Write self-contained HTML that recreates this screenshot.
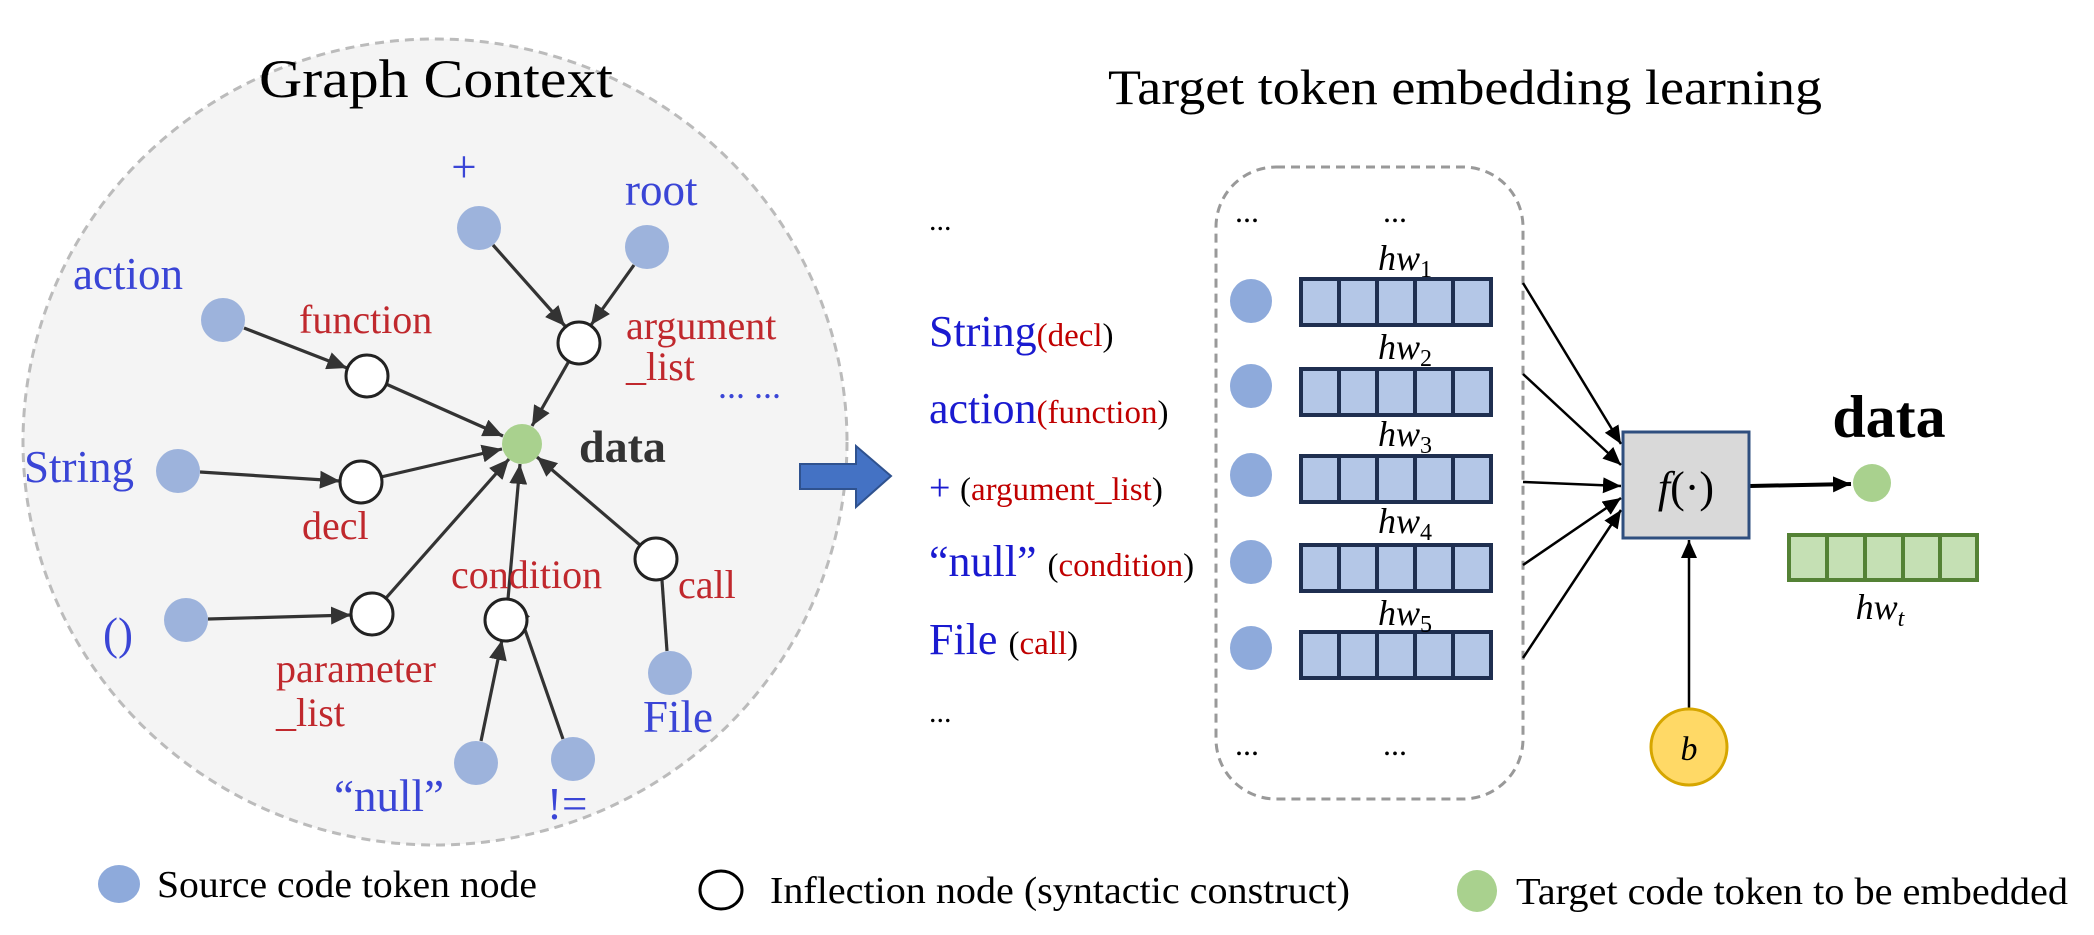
<!DOCTYPE html>
<html><head><meta charset="utf-8"><style>
html,body{margin:0;padding:0;background:#fff;}
svg{display:block;}
text{font-family:"Liberation Serif",serif;}
</style></head><body>
<svg width="2094" height="935" viewBox="0 0 2094 935" xmlns="http://www.w3.org/2000/svg">
<defs>
<marker id="ah" markerUnits="userSpaceOnUse" markerWidth="22" markerHeight="18" refX="20" refY="9" orient="auto"><path d="M0,0 L20,9 L0,18 Z" fill="#333"/></marker>
<marker id="ak" markerUnits="userSpaceOnUse" markerWidth="20" markerHeight="16" refX="18" refY="8" orient="auto"><path d="M0,0 L18,8 L0,16 Z" fill="#000"/></marker>
</defs>
<ellipse cx="435" cy="442" rx="412" ry="403" fill="#f4f4f4" stroke="#bbb" stroke-width="3" stroke-dasharray="9,6"/>
<text x="436" y="97" font-size="54" text-anchor="middle" textLength="354" lengthAdjust="spacingAndGlyphs">Graph Context</text>

<g stroke="#333" stroke-width="3.2" fill="none" marker-end="url(#ah)">
<line x1="493" y1="245" x2="565" y2="326"/>
<line x1="634" y1="265" x2="591" y2="325"/>
<line x1="569" y1="361" x2="532" y2="426"/>
<line x1="244" y1="328" x2="347" y2="368"/>
<line x1="386" y1="384" x2="503" y2="436"/>
<line x1="200" y1="472" x2="340" y2="481"/>
<line x1="381" y1="477" x2="502" y2="449"/>
<line x1="208" y1="619" x2="351" y2="615"/>
<line x1="386" y1="598" x2="509" y2="459"/>
<line x1="508" y1="599" x2="520" y2="464"/>
<line x1="481" y1="741" x2="502" y2="640"/>
<line x1="563" y1="739" x2="515" y2="601"/>
<line x1="640" y1="545" x2="537" y2="457"/>
<line x1="667" y1="651" x2="659" y2="538"/>
</g>

<g fill="#9db3dc">
<circle cx="479" cy="228" r="22"/><circle cx="647" cy="247" r="22"/>
<circle cx="223" cy="320" r="22"/><circle cx="178" cy="471" r="22"/>
<circle cx="186" cy="620" r="22"/><circle cx="670" cy="673" r="22"/>
<circle cx="476" cy="763" r="22"/><circle cx="573" cy="759" r="22"/>
</g>
<g fill="#fff" stroke="#222" stroke-width="3">
<circle cx="579" cy="343" r="21"/><circle cx="367" cy="376" r="21"/>
<circle cx="361" cy="482" r="21"/><circle cx="372" cy="614" r="21"/>
<circle cx="506" cy="620" r="21"/><circle cx="656" cy="559" r="21"/>
</g>
<circle cx="522" cy="444" r="20" fill="#a9d18e"/>

<g fill="#3a45d6" font-size="45">
<text x="464" y="182" text-anchor="middle">+</text>
<text x="625" y="205">root</text>
<text x="73" y="289">action</text>
<text x="24" y="482">String</text>
<text x="103" y="649">()</text>
<text x="643" y="732">File</text>
<text x="334" y="811">“null”</text>
<text x="547" y="819">!=</text>
<text x="718" y="398" font-size="36">... ...</text>
</g>
<g fill="#c0282d" font-size="40">
<text x="299" y="333">function</text>
<text x="626" y="339">argument</text>
<text x="626" y="380">_list</text>
<text x="302" y="539">decl</text>
<text x="276" y="682">parameter</text>
<text x="276" y="726">_list</text>
<text x="451" y="588">condition</text>
<text x="678" y="598">call</text>
</g>
<text x="579" y="462" font-size="46" font-weight="bold" fill="#333">data</text>

<path d="M800,464 L856,464 L856,446 L891,476 L856,507 L856,489 L800,489 Z" fill="#4472c4" stroke="#2f528f" stroke-width="2"/>

<text x="1465" y="104" font-size="50" text-anchor="middle" textLength="714" lengthAdjust="spacingAndGlyphs">Target token embedding learning</text>

<text x="929" y="230" font-size="30">...</text>
<text x="929" y="722" font-size="30">...</text>
<g font-size="44">
<text x="929" y="346"><tspan fill="#1a1ad0">String</tspan><tspan fill="#c00000" font-size="33">(decl</tspan><tspan font-size="33">)</tspan></text>
<text x="929" y="423"><tspan fill="#1a1ad0">action</tspan><tspan fill="#c00000" font-size="33">(function</tspan><tspan font-size="33">)</tspan></text>
<text x="929" y="500"><tspan fill="#1a1ad0" font-size="38">+ </tspan><tspan font-size="33">(</tspan><tspan fill="#c00000" font-size="33">argument_list</tspan><tspan font-size="33">)</tspan></text>
<text x="929" y="576"><tspan fill="#1a1ad0">“null” </tspan><tspan font-size="33">(</tspan><tspan fill="#c00000" font-size="33">condition</tspan><tspan font-size="33">)</tspan></text>
<text x="929" y="654"><tspan fill="#1a1ad0">File </tspan><tspan font-size="33">(</tspan><tspan fill="#c00000" font-size="33">call</tspan><tspan font-size="33">)</tspan></text>
</g>

<rect x="1216" y="167" width="307" height="632" rx="60" fill="none" stroke="#999" stroke-width="3" stroke-dasharray="9,6"/>
<g font-size="32">
<text x="1235" y="222">...</text><text x="1383" y="222">...</text>
<text x="1235" y="755">...</text><text x="1383" y="755">...</text>
</g>
<g fill="#8eaadb">
<ellipse cx="1251" cy="301" rx="21" ry="22"/><ellipse cx="1251" cy="386" rx="21" ry="22"/>
<ellipse cx="1251" cy="475" rx="21" ry="22"/><ellipse cx="1251" cy="562" rx="21" ry="22"/>
<ellipse cx="1251" cy="648" rx="21" ry="22"/>
</g>
<g fill="#b4c7e7" stroke="#1f2f50" stroke-width="4">
<g transform="translate(1301,279)"><rect width="190" height="46"/><path d="M38,0V46M76,0V46M114,0V46M152,0V46"/></g>
<g transform="translate(1301,369)"><rect width="190" height="46"/><path d="M38,0V46M76,0V46M114,0V46M152,0V46"/></g>
<g transform="translate(1301,456)"><rect width="190" height="46"/><path d="M38,0V46M76,0V46M114,0V46M152,0V46"/></g>
<g transform="translate(1301,545)"><rect width="190" height="46"/><path d="M38,0V46M76,0V46M114,0V46M152,0V46"/></g>
<g transform="translate(1301,632)"><rect width="190" height="46"/><path d="M38,0V46M76,0V46M114,0V46M152,0V46"/></g>
</g>
<g font-size="36" font-style="italic" text-anchor="middle">
<text x="1405" y="270">hw<tspan font-size="24" font-style="normal" dy="7">1</tspan></text>
<text x="1405" y="359">hw<tspan font-size="24" font-style="normal" dy="7">2</tspan></text>
<text x="1405" y="446">hw<tspan font-size="24" font-style="normal" dy="7">3</tspan></text>
<text x="1405" y="533">hw<tspan font-size="24" font-style="normal" dy="7">4</tspan></text>
<text x="1405" y="625">hw<tspan font-size="24" font-style="normal" dy="7">5</tspan></text>
<text x="1880" y="619">hw<tspan font-size="24" dy="7">t</tspan></text>
</g>

<g stroke="#000" stroke-width="2.5" marker-end="url(#ak)">
<line x1="1523" y1="283" x2="1621" y2="444"/>
<line x1="1523" y1="374" x2="1621" y2="465"/>
<line x1="1523" y1="482" x2="1621" y2="486"/>
<line x1="1523" y1="565" x2="1621" y2="498"/>
<line x1="1523" y1="658" x2="1621" y2="510"/>
<line x1="1689" y1="711" x2="1689" y2="540"/>
</g>
<line x1="1750" y1="486" x2="1851" y2="484" stroke="#000" stroke-width="4" marker-end="url(#ak)"/>

<rect x="1623" y="432" width="126" height="106" fill="#d9d9d9" stroke="#2f4f7f" stroke-width="3"/>
<text x="1686" y="502" font-size="44" text-anchor="middle" font-style="italic">f<tspan font-style="normal">(·)</tspan></text>
<circle cx="1689" cy="747" r="38" fill="#ffd966" stroke="#d6a600" stroke-width="3"/>
<text x="1689" y="760" font-size="34" font-style="italic" text-anchor="middle">b</text>

<circle cx="1872" cy="483" r="19" fill="#a9d18e"/>
<text x="1889" y="437" font-size="60" font-weight="bold" text-anchor="middle">data</text>
<g fill="#c5e0b4" stroke="#548235" stroke-width="4">
<rect x="1789" y="535" width="188" height="45"/>
<path d="M1827,535V580M1865,535V580M1903,535V580M1940,535V580"/>
</g>

<ellipse cx="119" cy="884" rx="21" ry="19" fill="#8eaadb"/>
<text x="157" y="897" font-size="38" textLength="380" lengthAdjust="spacingAndGlyphs">Source code token node</text>
<ellipse cx="721" cy="890" rx="21" ry="19" fill="#fff" stroke="#000" stroke-width="3"/>
<text x="770" y="903" font-size="38" textLength="580" lengthAdjust="spacingAndGlyphs">Inflection node (syntactic construct)</text>
<ellipse cx="1477" cy="891" rx="20" ry="21" fill="#a9d18e"/>
<text x="1516" y="904" font-size="38" textLength="552" lengthAdjust="spacingAndGlyphs">Target code token to be embedded</text>
</svg>
</body></html>
